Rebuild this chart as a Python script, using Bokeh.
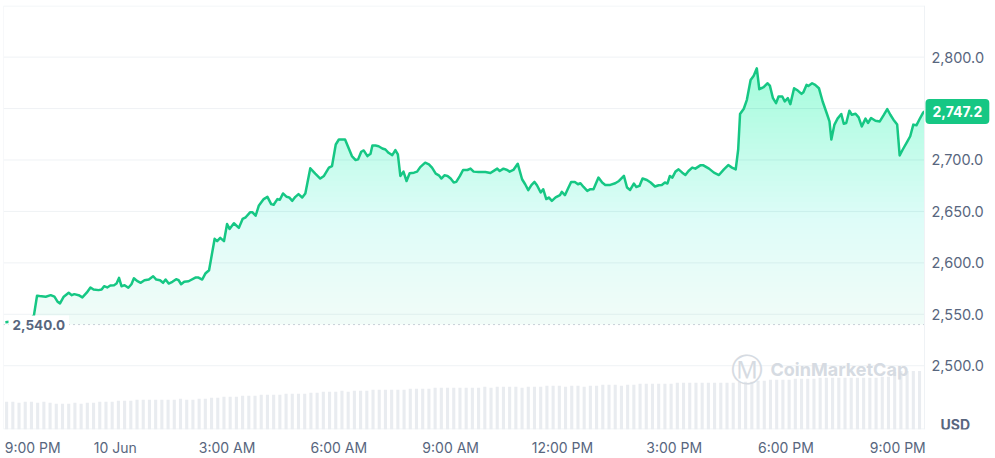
import numpy as np
from bokeh.plotting import figure
from bokeh.models import Range1d, FixedTicker, Span, Label
from bokeh.core.properties import value
from bokeh.embed import file_html
from bokeh.resources import INLINE

# ---------------- data ----------------
# minutes since 9:00 PM (9 Jun)
TIME_MIN = [3, 43, 49, 54, 58, 68, 76, 82, 87, 91, 97, 105, 110, 114, 121, 127, 134, 140, 145, 153,
            158, 162, 167, 172, 178, 182, 186, 190, 195, 201, 206, 210, 215, 221, 227, 234, 241, 246, 252, 257,
            261, 266, 272, 278, 282, 286, 291, 298, 301, 309, 314, 320, 325, 331, 340, 344, 349, 355, 360, 364,
            371, 379, 385, 390, 397, 401, 406, 411, 419, 425, 431, 435, 441, 445, 450, 456, 460, 465, 470, 475,
            481, 486, 494, 502, 510, 516, 524, 529, 535, 540, 550, 556, 561, 567, 571, 576, 580, 586, 591, 594,
            599, 604, 610, 615, 620, 626, 631, 635, 639, 644, 649, 654, 661, 666, 671, 679, 685, 690, 696, 701,
            705, 710, 715, 720, 725, 729, 735, 740, 747, 752, 757, 765, 776, 784, 790, 795, 799, 805, 811, 815,
            821, 828, 835, 840, 845, 850, 855, 859, 865, 869, 874, 878, 883, 889, 896, 899, 904, 909, 914, 920,
            925, 929, 934, 940, 945, 950, 958, 964, 969, 977, 985, 991, 999, 1004, 1009, 1015, 1019, 1024, 1029, 1036,
            1042, 1049, 1055, 1060, 1065, 1069, 1073, 1077, 1082, 1087, 1093, 1098, 1103, 1109, 1114, 1122, 1127, 1136, 1144, 1152,
            1160, 1167, 1173, 1179, 1183, 1186, 1192, 1197, 1203, 1208, 1213, 1217, 1224, 1230, 1234, 1239, 1244, 1248, 1254, 1258,
            1263, 1267, 1273, 1279, 1285, 1288, 1293, 1296, 1302, 1307, 1313, 1319, 1326, 1330, 1333, 1338, 1343, 1349, 1353, 1357,
            1362, 1366, 1372, 1377, 1382, 1388, 1392, 1397, 1404, 1411, 1417, 1423, 1428, 1433, 1439, 1443, 1448, 1455, 1460, 1465,
            1470, 1476, 1481, 1483]
PRICE = [2542.3, 2545.2, 2549.0, 2568.0, 2567.7, 2567.1, 2568.6, 2567.1, 2562.3, 2560.6, 2567.1, 2571.0, 2568.6, 2569.6, 2568.6, 2566.4, 2571.0, 2576.1, 2574.1, 2573.5,
         2574.1, 2577.3, 2576.1, 2578.0, 2578.3, 2579.9, 2585.4, 2577.3, 2578.3, 2575.8, 2579.2, 2585.0, 2582.5, 2580.6, 2583.1, 2583.8, 2587.0, 2583.8, 2583.1, 2580.6,
         2583.8, 2579.9, 2581.6, 2584.1, 2583.1, 2579.2, 2581.6, 2582.1, 2583.1, 2585.7, 2585.7, 2583.8, 2589.6, 2592.8, 2623.4, 2621.1, 2624.3, 2621.1, 2637.8, 2633.0,
         2638.5, 2634.0, 2642.7, 2644.3, 2649.1, 2649.1, 2645.8, 2655.5, 2662.0, 2664.2, 2657.1, 2656.5, 2662.0, 2661.3, 2667.5, 2664.2, 2663.6, 2660.3, 2664.2, 2666.8,
         2663.6, 2667.5, 2691.9, 2686.8, 2682.0, 2684.5, 2692.6, 2694.1, 2715.1, 2719.9, 2719.9, 2711.2, 2703.8, 2699.9, 2700.6, 2708.0, 2709.3, 2703.8, 2706.1, 2714.1,
         2714.1, 2713.4, 2711.2, 2710.2, 2707.0, 2704.7, 2709.6, 2705.4, 2684.5, 2688.7, 2679.6, 2687.1, 2687.7, 2688.7, 2693.1, 2697.4, 2695.8, 2692.6, 2686.8, 2685.1,
         2682.0, 2685.1, 2684.5, 2682.0, 2678.1, 2678.7, 2684.5, 2690.3, 2690.3, 2691.6, 2688.7, 2688.3, 2688.3, 2687.4, 2689.7, 2691.6, 2689.3, 2691.6, 2690.3, 2688.7,
         2690.3, 2696.4, 2681.3, 2676.4, 2670.7, 2675.5, 2678.7, 2675.5, 2668.4, 2671.6, 2662.0, 2663.6, 2660.3, 2663.6, 2665.8, 2669.0, 2665.8, 2672.3, 2678.7, 2678.7,
         2676.4, 2677.4, 2673.8, 2670.0, 2671.6, 2671.6, 2682.9, 2678.1, 2675.8, 2675.8, 2677.4, 2679.6, 2684.5, 2673.3, 2670.9, 2677.1, 2673.8, 2674.8, 2682.0, 2680.6,
         2678.1, 2674.2, 2675.5, 2675.8, 2678.1, 2677.1, 2684.5, 2682.9, 2688.7, 2690.9, 2687.7, 2685.4, 2689.3, 2692.6, 2691.6, 2694.8, 2694.8, 2691.6, 2687.7, 2685.4,
         2690.9, 2695.1, 2692.6, 2690.9, 2710.2, 2744.7, 2749.8, 2758.5, 2777.8, 2782.0, 2789.1, 2768.8, 2770.8, 2774.6, 2772.3, 2760.1, 2755.3, 2761.7, 2761.7, 2756.9,
         2760.1, 2754.3, 2769.8, 2767.5, 2764.3, 2765.9, 2773.0, 2772.0, 2774.6, 2773.0, 2769.8, 2756.9, 2744.7, 2737.5, 2719.9, 2734.4, 2740.2, 2744.7, 2735.3, 2736.0,
         2747.9, 2744.0, 2745.0, 2741.4, 2732.7, 2740.2, 2736.0, 2740.8, 2738.2, 2737.5, 2743.3, 2749.5, 2744.0, 2739.2, 2734.4, 2704.4, 2710.2, 2717.7, 2723.1, 2734.4,
         2733.7, 2740.8, 2746.2, 2747.2]
OPEN_PRICE = 2540.0

# volume per 10-minute slot (M USD), slot starts at minute 0
VOLUME = [280, 280, 270, 280, 280, 270, 280, 270, 260, 260,
          260, 270, 260, 270, 270, 280,
          280, 280, 290, 290, 290, 300, 300, 300,
          300, 300, 300, 300, 310, 300, 300, 310,
          310, 320, 320, 330, 330, 330, 340, 340,
          340, 350, 350, 350, 350, 360, 360, 360,
          360, 370, 370, 380, 380, 380, 390, 380,
          390, 390, 390, 400, 400, 400, 400, 400,
          400, 410, 410, 410, 410, 420, 420, 420,
          420, 420, 420, 420, 420, 430, 420, 430,
          430, 430, 430, 420, 430, 430, 430, 440,
          440, 440, 430, 440, 440, 430, 440, 440,
          450, 450, 450, 440, 450, 450, 460, 460,
          460, 460, 460, 460, 470, 470, 470, 470,
          470, 470, 470, 470, 470, 470, 480, 480,
          480, 490, 490, 500, 500, 500, 500, 510,
          510, 510, 510, 520, 520, 520, 520, 520,
          520, 520, 520, 520, 520, 530, 530, 580,
          590, 590, 590, 590]
SLOT_MIN = 10

X_TICKS = [47, 180, 360, 540, 720, 900, 1080, 1260, 1440]
X_TICK_LABELS = ["9:00 PM", "10 Jun", "3:00 AM", "6:00 AM", "9:00 AM", "12:00 PM", "3:00 PM", "6:00 PM", "9:00 PM"]
Y_TICKS = [2500, 2550, 2600, 2650, 2700, 2750, 2800]
Y_TICK_LABELS = ["2,500.0", "2,550.0", "2,600.0", "2,650.0", "2,700.0", "", "2,800.0"]
UNIT = "USD"

X_START, X_END = 0, 1483
Y_START, Y_END = 2438.0, 2850.2

# ---------------- layout ----------------
W, H = 995, 458
B_LEFT, B_TOP, B_BOTTOM = 3, 5, 26
FRAME_W = W - B_LEFT           # frame runs to the right edge; price scale lives inside it
FRAME_H = H - B_TOP - B_BOTTOM
DATA_W = 921                   # pixels used by the time axis
X_MAX = X_START + (X_END - X_START) * FRAME_W / DATA_W
PX_Y = FRAME_H / (Y_END - Y_START)

GREEN = "#16c784"
GREY_TXT = "#58667e"
LINE_GREY = "#eff2f5"
FONT = "Inter"

p = figure(width=W, height=H, output_backend="svg", toolbar_location=None,
           x_range=Range1d(X_START, X_MAX), y_range=Range1d(Y_START, Y_END),
           y_axis_location=None,
           min_border_left=B_LEFT, min_border_right=0, min_border_top=B_TOP, min_border_bottom=B_BOTTOM)
p.styles = {"position": "absolute", "left": "0px", "top": "0px"}
p.background_fill_color = "white"
p.border_fill_color = "white"
p.outline_line_color = None
p.grid.visible = False

xa = p.xaxis[0]
xa.ticker = FixedTicker(ticks=X_TICKS)
xa.major_label_overrides = {t: l for t, l in zip(X_TICKS, X_TICK_LABELS)}
xa.axis_line_color = None
xa.major_tick_line_color = None
xa.minor_tick_line_color = None
xa.major_tick_in = 0
xa.major_tick_out = 0
xa.major_label_text_font = FONT
xa.major_label_text_font_size = "14px"
xa.major_label_text_color = GREY_TXT
xa.major_label_standoff = 9

# grid lines and frame border (only over the time span)
p.segment(x0=X_START, x1=X_END, y0=Y_TICKS, y1=Y_TICKS, line_color=LINE_GREY, line_width=1)
p.segment(x0=X_START, x1=X_END, y0=[Y_START + 0.5 / PX_Y, Y_END - 0.5 / PX_Y],
          y1=[Y_START + 0.5 / PX_Y, Y_END - 0.5 / PX_Y], line_color=LINE_GREY, line_width=1)
p.add_layout(Span(location=X_START, dimension="height", line_color=LINE_GREY, line_width=1))
p.add_layout(Span(location=X_END, dimension="height", line_color=LINE_GREY, line_width=1))

# price scale labels
p.text(x=[X_END] * len(Y_TICKS), y=Y_TICKS, text=Y_TICK_LABELS, x_offset=7,
       text_baseline="middle", text_align="left", text_font=value(FONT),
       text_font_size="14.5px", text_color=GREY_TXT)

# volume bars
p.extra_y_ranges = {"vol": Range1d(0, 4270)}
vol_x = [SLOT_MIN * i + SLOT_MIN / 2 for i in range(len(VOLUME))]
p.vbar(x=vol_x, top=VOLUME, bottom=0, width=SLOT_MIN * 0.5, y_range_name="vol",
       fill_color="#e9ecf0", line_color=None)

# gradient area (stacked translucent layers)
t_arr = np.array(TIME_MIN, dtype=float)
p_arr = np.array(PRICE, dtype=float)
N = 60
levels = np.linspace(OPEN_PRICE, Y_END, N + 1)[:-1]
step = (Y_END - OPEN_PRICE) / N
prev = 0.0
for L in levels:
    A = 0.055 + (L + step / 2 - OPEN_PRICE) / (Y_END - OPEN_PRICE) * 0.30
    a = 1 - (1 - A) / (1 - prev)
    prev = A
    p.varea(x=t_arr, y1=np.full_like(p_arr, L), y2=np.maximum(p_arr, L),
            fill_color=GREEN, fill_alpha=a)

# baseline (opening price)
p.segment(x0=X_START, x1=X_END, y0=OPEN_PRICE, y1=OPEN_PRICE, line_color="#98a1b2",
          line_dash="1 4", line_width=1)

p.line(t_arr, p_arr, line_color=GREEN, line_width=2.5, line_join="round")

p.add_layout(Label(x=X_START, y=OPEN_PRICE, x_offset=5, text=f"{OPEN_PRICE:,.1f}",
                   text_baseline="middle", text_align="left", text_font=FONT,
                   text_font_size="13.5px", text_color=GREY_TXT, text_font_style="bold",
                   background_fill_color="white", padding=4))

# current price tag
p.add_layout(Label(x=X_END, y=PRICE[-1], x_offset=1, text=f"{PRICE[-1]:,.1f}",
                   text_baseline="middle", text_align="left", text_font=FONT,
                   text_font_size="14px", text_color="white", text_font_style="bold",
                   background_fill_color=GREEN, border_radius=4, padding=7))

# unit label
p.add_layout(Label(x=X_END, y=Y_START + 5 / PX_Y, x_offset=16, text=UNIT,
                   text_baseline="middle", text_align="left", text_font=FONT,
                   text_font_size="14px", text_color=GREY_TXT, text_font_style="bold"))

# watermark
wm_y = Y_START + 60 / PX_Y
p.add_layout(Label(x=X_START + 743 / DATA_W * (X_END - X_START), y=wm_y, text="\u24c2",
                   text_baseline="middle", text_align="center", text_font="DejaVu Sans",
                   text_font_size="32px", text_color="#d6dbe2"))
p.add_layout(Label(x=X_START + 767 / DATA_W * (X_END - X_START), y=wm_y, text="CoinMarketCap",
                   text_baseline="middle", text_align="left", text_font=FONT,
                   text_font_size="18px", text_color="#d6dbe2", text_font_style="bold"))

open("out.html", "w").write(file_html(p, INLINE))
